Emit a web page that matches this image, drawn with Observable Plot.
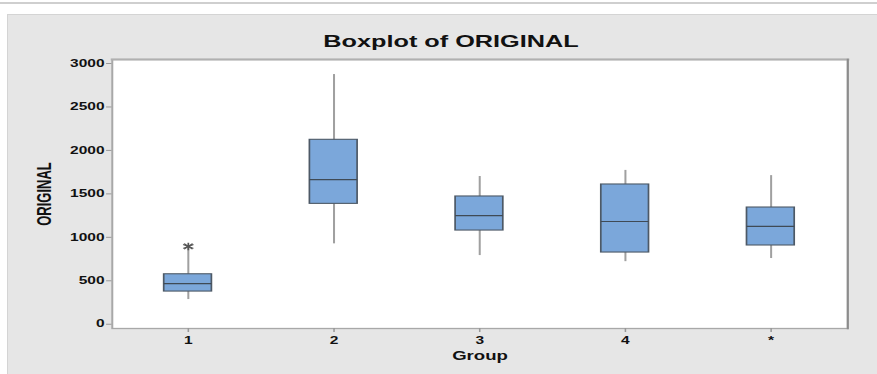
<!DOCTYPE html>
<html>
<head>
<meta charset="utf-8">
<script src="https://cdn.jsdelivr.net/npm/d3@7"></script>
<script src="https://cdn.jsdelivr.net/npm/@observablehq/plot@0.6"></script>
<style>
  html, body { margin: 0; padding: 0; background: #fff; width: 877px; height: 374px; overflow: hidden; font-family: "Liberation Sans", Arial, sans-serif; }
  #topline { position: absolute; left: 0; top: 2px; width: 877px; height: 2px; background: #cfcfcf; }
  #panel { position: absolute; left: 7px; top: 14px; width: 870px; height: 360px; background: #e6e6e6; border-left: 1px solid #d4d4d4; border-top: 1px solid #d4d4d4; box-sizing: border-box; }
  #chart { position: absolute; left: 0; top: 0; width: 877px; height: 374px; }
  #chart svg { width: 877px !important; height: 374px !important; max-width: none !important; }
</style>
</head>
<body>
<div id="topline"></div>
<div id="panel"></div>
<div id="chart"></div>
<script>
const groups = ["1", "2", "3", "4", "*"];
const whiskerLow = [284, 925, 790, 720, 756];
const q1 = [376, 1385, 1078, 825, 906];
const median = [468, 1665, 1250, 1182, 1125];
const q3 = [575, 2122, 1470, 1608, 1343];
const whiskerHigh = [880, 2873, 1700, 1770, 1710];
const outlierGroup = ["1"];
const outlierValue = [895];
const yTicks = [0, 500, 1000, 1500, 2000, 2500, 3000];
const titleText = ["Boxplot of ORIGINAL"];
const yLabel = ["ORIGINAL"];
const xLabel = ["Group"];

const boxes = groups.map((g, i) => ({
  group: g, lo: whiskerLow[i], q1: q1[i], med: median[i], q3: q3[i], hi: whiskerHigh[i]
}));
const outliers = outlierGroup.map((g, i) => ({group: g, value: outlierValue[i]}));

// The reference is horizontally stretched; draw at a narrower width and stretch the SVG.
const S = 1.55;
const W = 877 / S;
const boxInset = 49 / S;

const chart = Plot.plot({
  width: W,
  height: 374,
  marginLeft: 111.5 / S,
  marginRight: W - 847 / S,
  marginTop: 59,
  marginBottom: 46,
  style: { background: "transparent", fontFamily: "Liberation Sans, Arial, sans-serif", color: "#111" },
  x: { domain: groups, padding: 0 },
  y: { domain: [-49, 3046] },
  marks: [
    Plot.frame({ fill: "white", stroke: "#a8a8a8", strokeWidth: 1.3 }),
    Plot.frame({ anchor: "top", stroke: "#b0b0b0", strokeWidth: 2 }),
    Plot.frame({ anchor: "right", stroke: "#8c8c8c", strokeWidth: 1.3 }),
    Plot.axisY({ ticks: yTicks, tickFormat: d3.format("d"), tickSize: 3.5, tickPadding: 1.5, fontSize: 10, fontWeight: "bold", stroke: "#999", label: null }),
    Plot.axisX({ tickSize: 4, tickPadding: 4, fontSize: 10, fontWeight: "bold", stroke: "#999", label: null }),
    Plot.ruleX(boxes, { x: "group", y1: "lo", y2: "hi", stroke: "#a0a0a0", strokeWidth: 1.3 }),
    Plot.barY(boxes, { x: "group", y1: "q1", y2: "q3", fill: "#7ba7da", stroke: "#4d5966", strokeWidth: 1.1, insetLeft: boxInset, insetRight: boxInset }),
    Plot.tickY(boxes, { x: "group", y: "med", stroke: "#3f4a55", strokeWidth: 1.2, insetLeft: boxInset, insetRight: boxInset }),
    Plot.dot(outliers, { x: "group", y: "value", symbol: "asterisk", r: 3.6, stroke: "#555", strokeWidth: 1.1 }),
    Plot.dot(outliers, { x: "group", y: "value", symbol: "times", r: 2.6, stroke: "#555", strokeWidth: 1 }),
    Plot.text(titleText, { frameAnchor: "top", lineAnchor: "middle", textAnchor: "middle", dy: -18, dx: (450 - 479) / S, fontSize: 16.3, fontWeight: "bold", fill: "#111" }),
    Plot.text(yLabel, { frameAnchor: "left", textAnchor: "middle", lineAnchor: "middle", dx: 44 / S - 111.5 / S, rotate: -90, fontSize: 13, fontWeight: "bold", fill: "#111" }),
    Plot.text(xLabel, { frameAnchor: "bottom", lineAnchor: "middle", textAnchor: "middle", dy: 28, fontSize: 12, fontWeight: "bold", fill: "#111" })
  ]
});
chart.setAttribute("width", 877);
chart.setAttribute("height", 374);
chart.setAttribute("viewBox", `0 0 ${W} 374`);
chart.setAttribute("preserveAspectRatio", "none");
document.getElementById("chart").appendChild(chart);
</script>
</body>
</html>
